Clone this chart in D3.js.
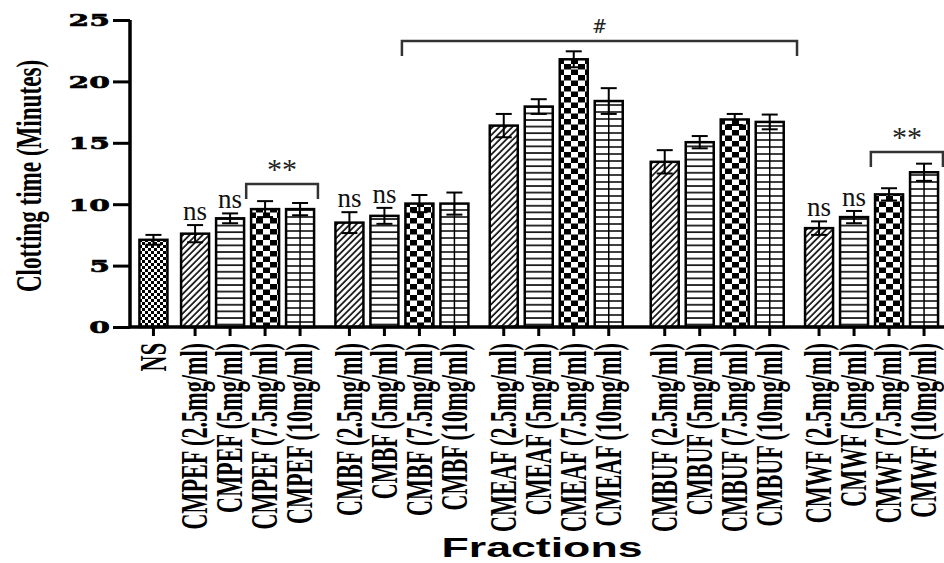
<!DOCTYPE html>
<html>
<head>
<meta charset="utf-8">
<script src="https://cdn.jsdelivr.net/npm/d3@7"></script>
<style>
  body { margin: 0; background: #fff; }
</style>
</head>
<body>
<div id="chart"></div>
<script>
// categories, in drawing order
var categories = [
    "NS",
    "CMPEF (2.5mg/ml)", "CMPEF (5mg/ml)", "CMPEF (7.5mg/ml)", "CMPEF (10mg/ml)",
    "CMBF (2.5mg/ml)", "CMBF (5mg/ml)", "CMBF (7.5mg/ml)", "CMBF (10mg/ml)",
    "CMEAF (2.5mg/ml)", "CMEAF (5mg/ml)", "CMEAF (7.5mg/ml)", "CMEAF (10mg/ml)",
    "CMBUF (2.5mg/ml)", "CMBUF (5mg/ml)", "CMBUF (7.5mg/ml)", "CMBUF (10mg/ml)",
    "CMWF (2.5mg/ml)", "CMWF (5mg/ml)", "CMWF (7.5mg/ml)", "CMWF (10mg/ml)"
];
var groupIndex = [0, 1, 1, 1, 1, 2, 2, 2, 2, 3, 3, 3, 3, 4, 4, 4, 4, 5, 5, 5, 5];
var doseIndex  = [-1, 0, 1, 2, 3, 0, 1, 2, 3, 0, 1, 2, 3, 0, 1, 2, 3, 0, 1, 2, 3];

// mean clotting time (minutes) and error
var means = [7.1, 7.6, 8.85, 9.6, 9.6, 8.5, 9.05, 10.05, 10.05,
             16.4, 17.95, 21.8, 18.4, 13.45, 15.05, 16.9, 16.7,
             8.05, 8.95, 10.8, 12.6];
var errors = [0.4, 0.7, 0.4, 0.65, 0.5, 0.85, 0.65, 0.7, 0.9,
              0.95, 0.6, 0.65, 1.05, 0.95, 0.5, 0.45, 0.6,
              0.55, 0.5, 0.5, 0.7];

// "ns" marks
var nsMarks = [1, 2, 5, 6, 17, 18];

// significance brackets: ends in slot units, level in minutes
var bracketStart = [2.65, 7.10, 20.50];
var bracketEnd   = [4.70, 18.39, 22.56];
var bracketLevel = [11.65, 23.3, 14.25];
var bracketText  = ["**", "#", "**"];

var yTicks = [0, 5, 10, 15, 20, 25];

var margin = { top: 20, right: 0, bottom: 236, left: 130 };
var width = 944 - margin.left - margin.right;
var height = 563 - margin.top - margin.bottom;

// extra space (in bar slots) before each group
var groupGap = [0, 1.19, 1.41, 1.41, 1.6, 1.41];
var slots = [];
var pos = 0;
categories.forEach(function (c, i) {
    if (i > 0) {
        pos += (groupIndex[i] !== groupIndex[i - 1]) ? groupGap[groupIndex[i]] : 1;
    }
    slots.push(pos);
});

var svg = d3.select("#chart")
    .append("svg")
    .attr("width", 944)
    .attr("height", 563)
    .style("font-family", "'Liberation Serif', serif");

var defs = svg.append("defs");

// fine checker (NS)
var p0 = defs.append("pattern").attr("id", "pFine")
    .attr("patternUnits", "userSpaceOnUse").attr("width", 6).attr("height", 6);
p0.append("rect").attr("width", 6).attr("height", 6).attr("fill", "#fff");
p0.append("rect").attr("width", 3).attr("height", 3).attr("fill", "#000");
p0.append("rect").attr("x", 3).attr("y", 3).attr("width", 3).attr("height", 3).attr("fill", "#000");

// diagonal hatch (2.5 mg/ml)
var p1 = defs.append("pattern").attr("id", "pDiag")
    .attr("patternUnits", "userSpaceOnUse").attr("width", 4.6).attr("height", 10)
    .attr("patternTransform", "rotate(45)");
p1.append("rect").attr("width", 4.6).attr("height", 10).attr("fill", "#fff");
p1.append("line").attr("x1", 1).attr("x2", 1).attr("y1", 0).attr("y2", 10)
    .attr("stroke", "#000").attr("stroke-width", 1.6);

// horizontal lines (5 mg/ml)
var p2 = defs.append("pattern").attr("id", "pHoriz")
    .attr("patternUnits", "userSpaceOnUse").attr("width", 10).attr("height", 6.6);
p2.append("rect").attr("width", 10).attr("height", 6.6).attr("fill", "#fff");
p2.append("line").attr("x1", 0).attr("x2", 10).attr("y1", 1).attr("y2", 1)
    .attr("stroke", "#000").attr("stroke-width", 1.6);

// big checker (7.5 mg/ml)
var p3 = defs.append("pattern").attr("id", "pCheck")
    .attr("patternUnits", "userSpaceOnUse").attr("width", 14).attr("height", 11);
p3.append("rect").attr("width", 14).attr("height", 11).attr("fill", "#fff");
p3.append("rect").attr("x", 0).attr("y", 0).attr("width", 7).attr("height", 5.5).attr("fill", "#000");
p3.append("rect").attr("x", 7).attr("y", 5.5).attr("width", 7).attr("height", 5.5).attr("fill", "#000");

// grid lines (10 mg/ml)
var p4 = defs.append("pattern").attr("id", "pGrid")
    .attr("patternUnits", "userSpaceOnUse").attr("width", 10).attr("height", 7);
p4.append("rect").attr("width", 10).attr("height", 7).attr("fill", "#fff");
p4.append("line").attr("x1", 0).attr("x2", 10).attr("y1", 1).attr("y2", 1)
    .attr("stroke", "#000").attr("stroke-width", 1.5);

var patternIds = ["pDiag", "pHoriz", "pCheck", "pGrid"];

var g = svg.append("g")
    .attr("transform", "translate(" + margin.left + "," + margin.top + ")");

var x = d3.scaleLinear()
    .domain([-0.67, 22.59])
    .range([0, width]);
var bw = 28;

var y = d3.scaleLinear()
    .domain([0, 25])
    .range([height, 0]);

// bars
var rows = categories.map(function (c, i) {
    return { name: c, slot: slots[i], mean: means[i], err: errors[i], dose: doseIndex[i] };
});

g.selectAll(".bar")
    .data(rows)
    .enter()
    .append("rect")
    .attr("class", "bar")
    .attr("x", d => x(d.slot) - bw / 2)
    .attr("y", d => y(d.mean))
    .attr("width", bw)
    .attr("height", d => y(0) - y(d.mean))
    .attr("fill", d => d.dose < 0 ? "url(#pFine)" : "url(#" + patternIds[d.dose] + ")")
    .attr("stroke", "#000")
    .attr("stroke-width", 2.5);

// center line for the grid pattern
g.selectAll(".gridline")
    .data(rows.filter(d => d.dose === 3))
    .enter()
    .append("line")
    .attr("x1", d => x(d.slot)).attr("x2", d => x(d.slot))
    .attr("y1", d => y(d.mean)).attr("y2", y(0))
    .attr("stroke", "#000").attr("stroke-width", 1.5);

// error bars
var eb = g.selectAll(".err")
    .data(rows)
    .enter()
    .append("g")
    .attr("stroke", "#000")
    .attr("stroke-width", 2);
eb.append("line")
    .attr("x1", d => x(d.slot)).attr("x2", d => x(d.slot))
    .attr("y1", d => y(d.mean - d.err)).attr("y2", d => y(d.mean + d.err));
eb.append("line")
    .attr("x1", d => x(d.slot) - 8).attr("x2", d => x(d.slot) + 8)
    .attr("y1", d => y(d.mean + d.err)).attr("y2", d => y(d.mean + d.err));
eb.append("line")
    .attr("x1", d => x(d.slot) - 8).attr("x2", d => x(d.slot) + 8)
    .attr("y1", d => y(d.mean - d.err)).attr("y2", d => y(d.mean - d.err));

// ns labels
g.selectAll(".ns")
    .data(nsMarks)
    .enter()
    .append("text")
    .attr("x", i => x(slots[i]))
    .attr("y", i => y(means[i] + errors[i]) - 5)
    .attr("text-anchor", "middle")
    .style("font-size", "27px")
    .style("fill", "#111")
    .text("ns");

// brackets
bracketText.forEach(function (t, i) {
    var x0 = x(bracketStart[i]), x1 = x(bracketEnd[i]), yy = y(bracketLevel[i]);
    g.append("path")
        .attr("d", "M" + x0 + "," + (yy + 15) + "V" + yy + "H" + x1 + "V" + (yy + 15))
        .attr("fill", "none")
        .attr("stroke", "#333")
        .attr("stroke-width", 2.5);
    g.append("text")
        .attr("x", (x0 + x1) / 2)
        .attr("y", t === "#" ? yy - 8 : yy - 5)
        .attr("text-anchor", "middle")
        .style("fill", "#222")
        .style("font-family", t === "#" ? "'DejaVu Serif', serif" : null)
        .style("font-size", t === "#" ? "18px" : "30px")
        .text(t);
});

// y axis
var yAxis = g.append("g")
    .call(d3.axisLeft(y).tickValues(yTicks).tickSize(17).tickFormat(""));
yAxis.select(".domain").attr("stroke-width", 3.5).attr("d", "M0," + y(25) + "V" + y(0));
yAxis.selectAll(".tick line").attr("stroke-width", 3);

g.selectAll(".ylab")
    .data(yTicks)
    .enter()
    .append("text")
    .attr("transform", d => "translate(-20," + y(d) + ") scale(1.7,1)")
    .attr("dy", "0.36em")
    .attr("text-anchor", "end")
    .style("font-family", "'DejaVu Serif', serif")
    .style("font-weight", "bold")
    .style("font-size", "17.5px")
    .style("stroke", "#000")
    .style("stroke-width", 0.6)
    .text(d => d);

// x axis
g.append("line")
    .attr("x1", 0).attr("x2", width)
    .attr("y1", height).attr("y2", height)
    .attr("stroke", "#000").attr("stroke-width", 3.5);
g.selectAll(".xtick")
    .data(rows)
    .enter()
    .append("line")
    .attr("x1", d => x(d.slot)).attr("x2", d => x(d.slot))
    .attr("y1", height).attr("y2", height + 9)
    .attr("stroke", "#000").attr("stroke-width", 3);

g.selectAll(".xlab")
    .data(rows)
    .enter()
    .append("text")
    .attr("transform", d => "translate(" + x(d.slot) + "," + (height + 16) + ") rotate(-90) scale(0.6,1)")
    .attr("dy", "0.33em")
    .attr("text-anchor", "end")
    .style("font-weight", "bold")
    .style("font-size", "37px")
    .text(d => d.name);

// axis titles
svg.append("text")
    .attr("transform", "translate(29,176) rotate(-90) scale(0.66,1)")
    .attr("dy", "0.33em")
    .attr("text-anchor", "middle")
    .style("font-weight", "bold")
    .style("font-size", "35px")
    .text("Clotting time (Minutes)");

svg.append("text")
    .attr("x", 542)
    .attr("y", 557)
    .attr("text-anchor", "middle")
    .attr("textLength", 201)
    .attr("lengthAdjust", "spacingAndGlyphs")
    .style("font-family", "'Liberation Sans', Arial, sans-serif")
    .style("font-weight", "bold")
    .style("font-size", "28px")
    .text("Fractions");
</script>
</body>
</html>
